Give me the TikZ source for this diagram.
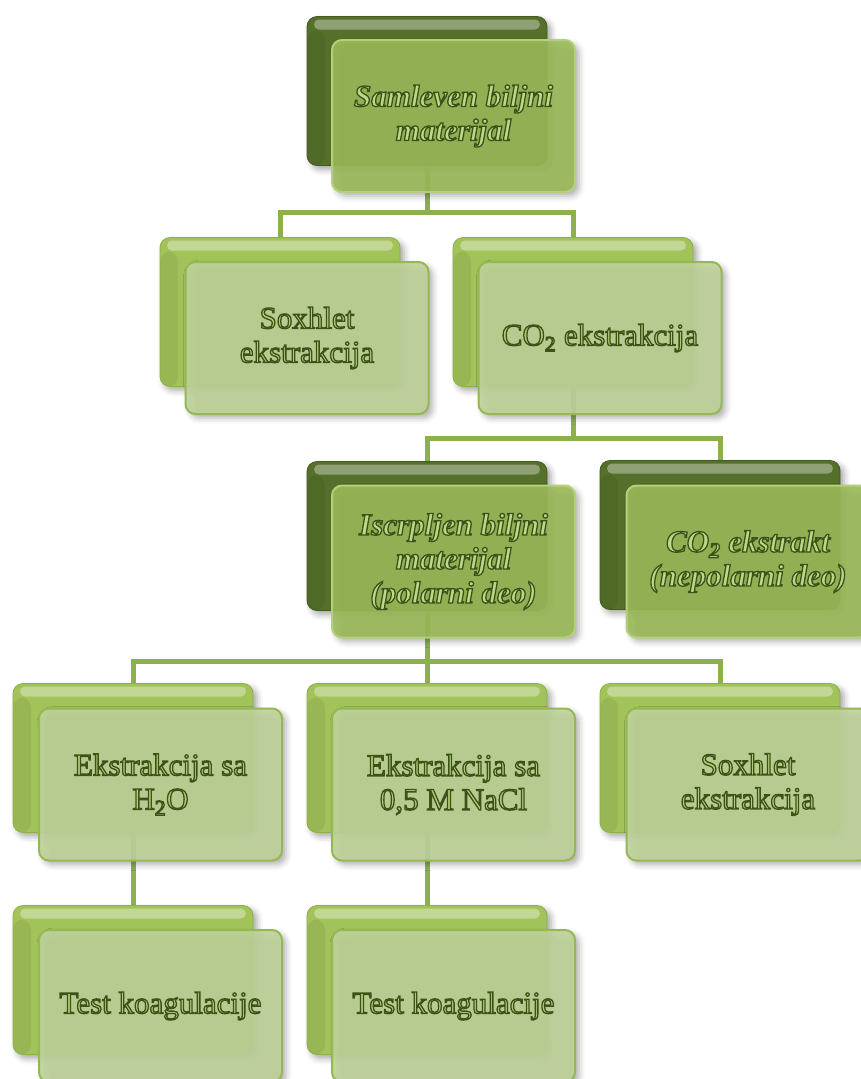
\documentclass[tikz,border=0pt]{standalone}
\usepackage{fontspec}
\setmainfont{Liberation Serif}
\usetikzlibrary{shadows.blur}
\definecolor{darkback}{HTML}{54702A}
\definecolor{darkedge}{HTML}{445C1F}
\definecolor{midfront}{HTML}{9BBB59}
\definecolor{midedge}{HTML}{B4D07A}
\definecolor{lightback}{HTML}{A2C35A}
\definecolor{lightedge}{HTML}{8DB04A}
\definecolor{lightfront}{HTML}{BFD39A}
\definecolor{lfedge}{HTML}{95B754}
\definecolor{connc}{HTML}{8DB04F}
\definecolor{txtD}{HTML}{BCD888}
\definecolor{txtL}{HTML}{AFCE72}
\newcommand{\emb}[1]{\special{pdf:literal direct 2 Tr 1.3 w 0.24 0.32 0.10 RG}#1\special{pdf:literal direct 0 Tr}}
\tikzset{
  boxbase/.style={rectangle, rounded corners=10pt, inner sep=0pt},
  gloss/.style={path picture={
      \fill[white,opacity=.35,rounded corners=5pt]
        ([xshift=7pt,yshift=-3pt]path picture bounding box.north west)
        rectangle ([xshift=-7pt,yshift=-13pt]path picture bounding box.north east);
      \fill[black,opacity=.06]
        ([yshift=-14pt]path picture bounding box.north west)
        rectangle ([xshift=18pt]path picture bounding box.south west);}},
  shad/.style={blur shadow={shadow xshift=4pt,shadow yshift=-4pt,shadow blur radius=6pt,shadow opacity=35}},
  backD/.style={boxbase, minimum width=240pt, minimum height=149pt,
      fill=darkback, draw=darkedge, line width=0.8pt, shad, gloss},
  backL/.style={boxbase, minimum width=240pt, minimum height=149pt,
      fill=lightback, draw=lightedge, line width=0.8pt, shad, gloss},
  frontD/.style={boxbase, minimum width=243pt, minimum height=152pt,
      fill=midfront, fill opacity=0.9, text opacity=1, draw=midedge, line width=2pt,
      shad, align=center, text=txtD,
      font=\fontsize{31}{34}\selectfont\bfseries\itshape},
  frontL/.style={boxbase, minimum width=243pt, minimum height=152pt,
      fill=lightfront, fill opacity=0.9, text opacity=1, draw=lfedge, line width=2pt,
      shad, align=center, text=txtL,
      font=\fontsize{31}{34}\selectfont},
  conn/.style={draw=connc, line width=5pt}
}
\begin{document}
\begin{tikzpicture}[x=1pt,y=-1pt]
\useasboundingbox (0,0) rectangle (860,1079);
% back boxes
\node[backD] (b1) at (427,91) {};
\node[backL] (b2a) at (280,312) {};
\node[backL] (b2b) at (573,312) {};
\node[backD] (b3a) at (427,536) {};
\node[backD] (b3b) at (720,535) {};
\node[backL] (b4a) at (133,758) {};
\node[backL] (b4b) at (427,758) {};
\node[backL] (b4c) at (720,758) {};
\node[backL] (b5a) at (133,980) {};
\node[backL] (b5b) at (427,980) {};
% connectors
\coordinate (j1) at (427,212);
\draw[conn] (b1.south) -- (j1) -| (b2a.north);
\draw[conn] (j1) -| (b2b.north);
\coordinate (j2) at (573,438);
\draw[conn] (b2b.south) -- (j2) -| (b3a.north);
\draw[conn] (j2) -| (b3b.north);
\coordinate (j3) at (427,661);
\draw[conn] (b3a.south) -- (j3) -| (b4a.north);
\draw[conn] (j3) -- (b4b.north);
\draw[conn] (j3) -| (b4c.north);
\draw[conn] (b4a.south) -- (b5a.north);
\draw[conn] (b4b.south) -- (b5b.north);
% front boxes
\node[frontD] (f1) at (453.5,116) {\emb{Samleven biljni\\materijal}};
\node[frontL] (f2a) at (307,338) {\emb{Soxhlet\\ekstrakcija}};
\node[frontL] (f2b) at (600,338) {\emb{CO\textsubscript{2} ekstrakcija}};
\node[frontD] (f3a) at (453.5,561.5) {\emb{Iscrpljen biljni\\materijal\\(polarni deo)}};
\node[frontD] (f3b) at (748,561.5) {\emb{CO\textsubscript{2} ekstrakt\\(nepolarni deo)}};
\node[frontL] (f4a) at (160.5,784.5) {\emb{Ekstrakcija sa\\H\textsubscript{2}O}};
\node[frontL] (f4b) at (453.5,784.5) {\emb{Ekstrakcija sa\\0,5 M NaCl}};
\node[frontL] (f4c) at (748,784.5) {\emb{Soxhlet\\ekstrakcija}};
\node[frontL] (f5a) at (160.5,1006) {\emb{Test koagulacije}};
\node[frontL] (f5b) at (453.5,1006) {\emb{Test koagulacije}};
\end{tikzpicture}
\end{document}
